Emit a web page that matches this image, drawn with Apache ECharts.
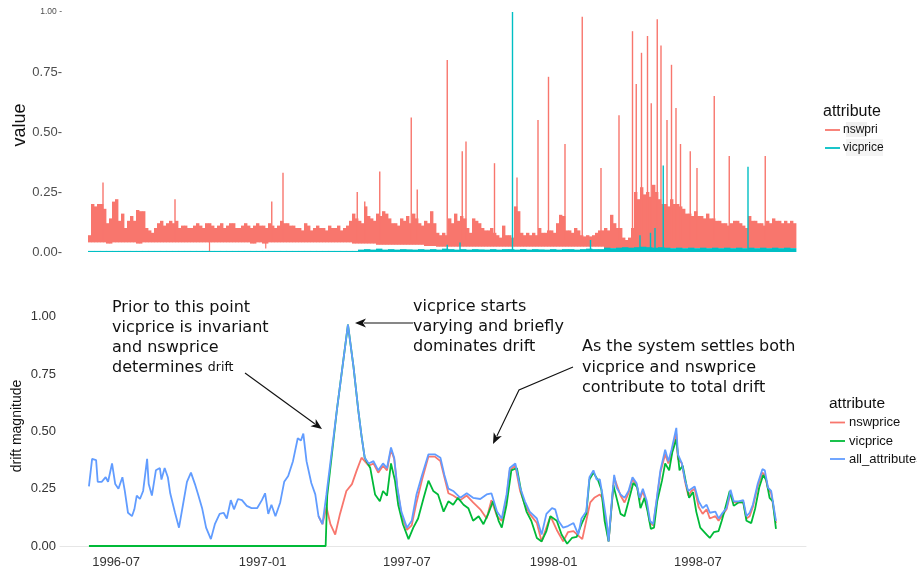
<!DOCTYPE html>
<html><head><meta charset="utf-8">
<script src="https://cdn.jsdelivr.net/npm/echarts@6/dist/echarts.min.js"></script>
<style>html,body{margin:0;padding:0;background:#fff}#c{width:917px;height:576px}</style>
</head><body><div id="c"></div><script>
// ---------- TOP PANEL (raw values; x = days since 1996-05-07) ----------
const HIGH_BUCKET_DAYS = 4;   // nswHigh: one value per 4-day bucket
const LOW_BUCKET_DAYS = 8;    // nswLow / vicHigh: one value per 8-day bucket
const nswHigh = [
 .07,.20,.19,.20,.20,.18,.12,.14,.21,.22,.13,.16,.10,.13,.15,.13,.175,.17,.17,.10,
 .09,.08,.10,.12,.13,.11,.12,.13,.12,.13,.10,.11,.11,.10,.10,.11,.12,.11,.10,.12,
 .12,.11,.10,.11,.12,.10,.11,.12,.12,.10,.10,.11,.12,.11,.10,.11,.12,.11,.11,.10,
 .12,.11,.10,.11,.13,.12,.12,.11,.11,.10,.10,.09,.12,.11,.09,.10,.11,.10,.10,.09,
 .11,.10,.10,.11,.09,.10,.11,.13,.16,.14,.13,.12,.19,.15,.14,.13,.16,.15,.17,.16,
 .14,.12,.12,.11,.14,.13,.15,.12,.16,.14,.12,.11,.13,.12,.17,.12,.08,.07,.08,.07,
 .14,.12,.16,.13,.15,.14,.10,.08,.14,.13,.12,.10,.09,.09,.10,.08,.07,.06,.11,.07,
 .07,.06,.19,.17,.08,.07,.08,.07,.08,.07,.10,.08,.08,.09,.09,.08,.12,.155,.15,.09,
 .09,.08,.10,.09,.07,.065,.07,.065,.07,.08,.09,.09,.10,.09,.155,.12,.10,.10,.06,.05,
 .06,.10,.25,.22,.27,.24,.25,.23,.28,.25,.22,.20,.20,.19,.22,.20,.20,.19,.18,.16,
 .16,.15,.17,.15,.15,.14,.16,.14,.14,.13,.13,.12,.12,.11,.12,.13,.13,.12,.11,.10,
 .15,.13,.13,.12,.12,.11,.13,.12,.14,.13,.13,.12,.13,.12,.13,.12];
const nswLow = [.04,.04,.04,.035,.04,.04,.04,.04,.035,.04,
 .04,.04,.04,.04,.04,.04,.04,.04,.04,.04,
 .04,.04,.04,.04,.04,.04,.04,.035,.04,.035,
 .04,.04,.04,.04,.04,.04,.04,.04,.04,.04,
 .04,.04,.04,.04,.035,.035,.035,.035,.03,.03,
 .03,.03,.03,.03,.03,.03,.025,.025,.022,.022,
 .022,.022,.022,.022,.022,.022,.022,.022,.022,.022,
 .022,.022,.022,.022,.022,.022,.022,.022,.022,.022,
 .022,.022,.022,.022,.022,.022,.016,.016,.016,.016,
 .016,.016,.016,.016,.016,.016,.016,.016,.016,.016,
 .016,.016,.016,.016,.016,.016,.016,.016,.016,.016,
 .016,.016,.016,.016,.016,.016,.016,.016];
const nswSpikeDays = [20,116,245,260,359,369,389,431,439,479,499,504,542,572,600,614,636,659,684,708,726,731,738,746,751,759,764,772,778,784,790,803,812,835,855,903];
const nswSpikeVals = [.29,.22,.21,.33,.25,.21,.335,.56,.26,.80,.42,.46,.37,.31,.55,.73,.45,.98,.35,.57,.92,.70,.83,.90,.62,.97,.86,.55,.78,.60,.45,.42,.35,.65,.40,.40];
const nswDipDays = [162,237];
const nswDipVals = [0.0,0.015];
const vicHigh = [.003,.003,.003,.003,.003,.003,.003,.003,.003,.003,
 .003,.003,.003,.003,.003,.003,.003,.003,.003,.003,
 .003,.003,.003,.003,.003,.003,.003,.003,.003,.003,
 .003,.003,.003,.003,.003,.003,.003,.003,.003,.003,
 .003,.003,.003,.003,.003,.010,.012,.010,.014,.010,
 .012,.010,.012,.011,.010,.012,.010,.012,.010,.014,
 .012,.010,.012,.010,.012,.011,.010,.012,.010,.012,
 .012,.010,.012,.010,.012,.011,.010,.012,.010,.012,
 .012,.010,.012,.014,.012,.012,.018,.016,.018,.020,
 .018,.020,.022,.020,.018,.020,.018,.016,.018,.016,
 .018,.016,.018,.016,.018,.016,.018,.016,.018,.016,
 .018,.016,.018,.016,.018,.016,.018,.016];
const vicSpikeDays = [479,496,566,670,736,750,756,767,880];
const vicSpikeVals = [.03,.04,1.0,.05,.07,.08,.10,.36,.355];

// ---------- BOTTOM PANEL (drift magnitude; x = days since 1996-07-01) ----------
const allDays = [-34,-30,-25,-23,-18,-13,-10,-5,-1,3,8,11,15,20,23,26,30,34,39,41,45,50,55,57,61,65,68,74,79,84,89,94,99,103,108,113,119,124,130,135,139,144,148,153,158,164,170,177,183,187,191,195,200,206,211,216,222,228,232,235,239,245,250,254,259,264,277,291,298,304,308,312,317,323,329,335,340,345,349,353,358,365,371,377,384,392,400,407,412,417,423,432,440,448,457,465,471,478,484,490,494,501,507,513,519,528,534,540,547,551,555,561,567,574,580,584,590,594,599,603,607,611,616,618,622,625,628,633,638,643,648,653,657,661,666,670,674,678,683,689,693,697,703,705,710,714,718,722,726,731,736,741,745,752,756,760,766,771,775,781,787,791,795,799,805,811,814,818,822,828];
const allDrift = [.26,.38,.375,.28,.28,.30,.28,.36,.27,.25,.30,.24,.145,.13,.16,.22,.205,.24,.38,.27,.22,.33,.34,.29,.34,.30,.23,.145,.08,.18,.28,.32,.27,.225,.165,.08,.03,.095,.14,.145,.12,.20,.16,.205,.20,.175,.165,.165,.20,.23,.14,.18,.13,.19,.28,.305,.37,.47,.46,.49,.37,.275,.225,.13,.095,.225,.59,.965,.78,.59,.48,.385,.36,.37,.33,.36,.34,.43,.385,.255,.15,.08,.11,.225,.31,.40,.40,.385,.31,.25,.24,.21,.23,.21,.205,.225,.23,.15,.12,.225,.34,.36,.255,.195,.15,.12,.05,.14,.165,.16,.11,.08,.087,.10,.05,.12,.15,.30,.33,.29,.29,.21,.095,.02,.195,.31,.255,.225,.21,.24,.30,.275,.21,.25,.195,.11,.095,.195,.33,.42,.37,.42,.515,.40,.36,.285,.24,.25,.26,.195,.165,.18,.145,.15,.12,.14,.165,.245,.195,.195,.20,.13,.145,.18,.27,.335,.33,.255,.24,.11];
const vicDays = [-34,263,265,277,291,298,304,308,312,319,325,331,335,340,345,350,354,360,367,373,379,386,392,398,404,411,417,423,429,436,442,448,455,461,467,473,480,484,490,496,503,509,515,521,528,534,540,545,553,559,566,572,578,584,590,594,599,605,609,613,618,624,628,633,638,643,649,654,658,663,667,671,675,679,685,689,694,698,703,707,711,716,719,724,728,733,737,741,745,750,756,760,764,770,775,781,787,791,797,802,807,812,816,820,824,828];
const vicDrift = [0,0,.22,.59,.965,.78,.59,.48,.385,.34,.225,.195,.24,.22,.36,.285,.18,.095,.03,.08,.12,.21,.285,.24,.225,.15,.195,.18,.21,.18,.165,.11,.13,.095,.14,.195,.11,.08,.18,.33,.34,.225,.15,.11,.035,.02,.065,.13,.11,.05,.01,.035,.04,.095,.14,.29,.32,.285,.245,.11,.02,.265,.21,.14,.13,.195,.275,.255,.165,.21,.15,.075,.08,.195,.285,.36,.33,.41,.465,.33,.35,.26,.21,.235,.15,.08,.065,.05,.035,.06,.065,.11,.16,.24,.175,.19,.19,.11,.10,.165,.255,.31,.285,.21,.195,.075];
const nswDays = [254,259,264,269,275,281,289,296,302,308,312,317,323,329,335,340,345,349,353,358,365,371,377,384,392,400,407,412,417,423,432,440,448,457,465,471,478,484,490,494,501,507,513,519,528,534,540,545,553,561,567,574,580,585,590,595,600,607,610,615,618,625,633,638,643,648,653,657,661,666,670,674,678,683,689,693,697,703,705,710,714,718,722,726,731,736,741,745,752,756,760,766,771,775,781,787,791,795,799,805,811,814,818,822,828];
const nswDrift = [.13,.095,.17,.095,.05,.14,.24,.27,.33,.385,.37,.35,.36,.32,.35,.33,.42,.38,.25,.14,.07,.09,.19,.29,.39,.39,.37,.30,.23,.22,.20,.22,.19,.16,.12,.20,.13,.11,.21,.33,.35,.24,.18,.14,.10,.02,.08,.13,.07,.02,.06,.065,.045,.03,.11,.19,.21,.225,.21,.095,.02,.30,.22,.19,.23,.29,.27,.20,.24,.18,.10,.09,.19,.32,.40,.36,.40,.49,.38,.36,.28,.22,.24,.25,.17,.14,.16,.12,.13,.11,.13,.16,.23,.19,.19,.19,.12,.13,.17,.26,.32,.31,.25,.23,.10];
const xTickDays = [0,184,365,549,730];
const xTickLabels = ['1996-07','1997-01','1997-07','1998-01','1998-07'];

const RED='#F8766D', CYAN='#00BFC4', GREEN='#00BA38', BLUE='#619CFF';
const SANS='Liberation Sans, Arial, Helvetica, sans-serif';
const DV='DejaVu Sans, Verdana, sans-serif';

function bandRender(color, width){
  return function(params, api){
    const d=api.value(0), lo=api.value(1), hi=api.value(2);
    const p0=api.coord([d,lo]), p1=api.coord([d+width,hi]);
    let h=p0[1]-p1[1]; if(h<1.1) h=1.1;
    return {type:'rect', shape:{x:p0[0], y:p0[1]-h, width:p1[0]-p0[0]+0.4, height:h}, style:{fill:color}};
  };
}
function spikeRender(color, base, lw){
  return function(params, api){
    const a=api.coord([api.value(0), base]), b=api.coord([api.value(0), api.value(1)]);
    return {type:'line', shape:{x1:a[0],y1:a[1],x2:b[0],y2:b[1]}, style:{stroke:color, lineWidth:lw}};
  };
}
const nswBand = nswHigh.map((h,i)=>{
  const d=i*HIGH_BUCKET_DAYS;
  return [d, nswLow[Math.min(nswLow.length-1, Math.floor(d/LOW_BUCKET_DAYS))], h];
});
const vicBand = vicHigh.map((h,i)=>[i*LOW_BUCKET_DAYS, 0, h]);

function arrow(pts){
  const n=pts.length, t=pts[n-1], p=pts[n-2];
  const dx=t[0]-p[0], dy=t[1]-p[1], L=Math.hypot(dx,dy), ux=dx/L, uy=dy/L;
  const hl=11, hw=4.5;
  const bx=t[0]-ux*hl, by=t[1]-uy*hl;
  const line=pts.slice(0,n-1).concat([[bx+ux*2,by+uy*2]]);
  return [
    {type:'polyline', shape:{points:line}, style:{stroke:'#111', lineWidth:1.1, fill:null}},
    {type:'polygon', shape:{points:[t,[bx-uy*hw,by+ux*hw],[bx+ux*3,by+uy*3],[bx+uy*hw,by-ux*hw]]}, style:{fill:'#111'}}
  ];
}
function txt(x,y,s,size,extra){
  return {type:'text', x:x, y:y, style:Object.assign({text:s, fontFamily:SANS, fontSize:size, fill:'#111', verticalAlign:'middle', align:'left'}, extra||{})};
}
function legLine(x,y,color){return {type:'line', shape:{x1:x,y1:y,x2:x+15,y2:y}, style:{stroke:color,lineWidth:1.8}};}

const graphics = [
  {type:'text', x:20, y:125, rotation:Math.PI/2, style:{text:'value', fontFamily:SANS, fontSize:18, fill:'#111', align:'center', verticalAlign:'middle'}},
  {type:'text', x:17, y:426, rotation:Math.PI/2, style:{text:'drift magnitude', fontFamily:SANS, fontSize:14, fill:'#111', align:'center', verticalAlign:'middle'}},
  txt(823,112,'attribute',16),
  {type:'rect', shape:{x:846,y:122,width:21,height:15}, style:{fill:'#F0F0F0'}},
  {type:'rect', shape:{x:846,y:139,width:37,height:17}, style:{fill:'#F4F4F4'}},
  legLine(825,130,RED), legLine(825,148,CYAN),
  txt(843,130,'nswpri',12), txt(843,148,'vicprice',12),
  txt(829,404,'attribute',15.5),
  legLine(830,422.5,RED), legLine(830,441,GREEN), legLine(830,459,BLUE),
  txt(849,422.5,'nswprice',13), txt(849,441,'vicprice',13), txt(849,459,'all_attributes',13),
  txt(112,308,'Prior to this point',16,{fontFamily:DV}),
  txt(112,328,'vicprice is invariant',16,{fontFamily:DV}),
  txt(112,348,'and nswprice',16,{fontFamily:DV}),
  {type:'text', x:112, y:368, style:{text:'determines {s|drift}', fontFamily:DV, fontSize:16, fill:'#111', verticalAlign:'middle', rich:{s:{fontFamily:DV, fontSize:12.5, fill:'#111'}}}},
  txt(413,307,'vicprice starts',16,{fontFamily:DV}),
  txt(413,327,'varying and briefly',16,{fontFamily:DV}),
  txt(413,347,'dominates drift',16,{fontFamily:DV}),
  txt(582,347,'As the system settles both',16,{fontFamily:DV}),
  txt(582,368,'vicprice and nswprice',16,{fontFamily:DV}),
  txt(582,388,'contribute to total drift',16,{fontFamily:DV})
].concat(arrow([[245,373],[322,429]]), arrow([[413,323],[355,323]]), arrow([[573,367],[519,390],[493,444]]));

const chart = echarts.init(document.getElementById('c'));
chart.setOption({
  animation:false,
  backgroundColor:'#fff',
  grid:[
    {left:65, width:745, top:12, height:240},
    {left:60, width:746, top:316.7, height:229.3}
  ],
  xAxis:[
    {gridIndex:0, type:'value', min:-30.67, max:962.67, show:false},
    {gridIndex:1, type:'value', min:-70.3, max:865.7, splitLine:{show:false},
     axisLine:{show:true, onZero:true, lineStyle:{color:'#E6E6E6', width:1}}, axisTick:{show:false},
     axisLabel:{customValues:xTickDays, formatter:v=>xTickLabels[xTickDays.indexOf(v)]||'', fontFamily:SANS, fontSize:13, color:'#333', margin:10}}
  ],
  yAxis:[
    {gridIndex:0, type:'value', min:0, max:1, interval:0.25, splitLine:{show:false}, axisLine:{show:false}, axisTick:{show:false},
     axisLabel:{margin:3, fontFamily:SANS, fontSize:13, color:'#4D4D4D',
       formatter:v=> v===1 ? '{s|1.00 -}' : v.toFixed(2)+'-', rich:{s:{fontSize:8.5, color:'#4D4D4D', fontFamily:SANS}}}},
    {gridIndex:1, type:'value', min:0, max:1, interval:0.25, splitLine:{show:false}, axisLine:{show:false}, axisTick:{show:false},
     axisLabel:{margin:4, fontFamily:SANS, fontSize:13, color:'#333', formatter:v=>v.toFixed(2)}}
  ],
  series:[
    {type:'custom', xAxisIndex:0, yAxisIndex:0, data:nswBand, encode:{x:0,y:[1,2]}, renderItem:bandRender(RED,HIGH_BUCKET_DAYS), silent:true},
    {type:'custom', xAxisIndex:0, yAxisIndex:0, data:nswSpikeDays.map((d,i)=>[d,nswSpikeVals[i]]), encode:{x:0,y:1}, renderItem:spikeRender(RED,0.05,1.4), silent:true},
    {type:'custom', xAxisIndex:0, yAxisIndex:0, data:nswDipDays.map((d,i)=>[d,nswDipVals[i]]), encode:{x:0,y:1}, renderItem:spikeRender(RED,0.05,1.2), silent:true},
    {type:'custom', xAxisIndex:0, yAxisIndex:0, data:vicBand, encode:{x:0,y:[1,2]}, renderItem:bandRender(CYAN,LOW_BUCKET_DAYS), silent:true},
    {type:'custom', xAxisIndex:0, yAxisIndex:0, data:vicSpikeDays.map((d,i)=>[d,vicSpikeVals[i]]), encode:{x:0,y:1}, renderItem:spikeRender(CYAN,0,1.4), silent:true},
    {name:'nswprice', type:'line', xAxisIndex:1, yAxisIndex:1, data:nswDays.map((d,i)=>[d,nswDrift[i]]), showSymbol:false, clip:false, lineStyle:{color:RED,width:1.8}},
    {name:'vicprice', type:'line', xAxisIndex:1, yAxisIndex:1, data:vicDays.map((d,i)=>[d,vicDrift[i]]), showSymbol:false, clip:false, lineStyle:{color:GREEN,width:1.8}},
    {name:'all_attributes', type:'line', xAxisIndex:1, yAxisIndex:1, data:allDays.map((d,i)=>[d,allDrift[i]]), showSymbol:false, clip:false, lineStyle:{color:BLUE,width:1.8}}
  ],
  graphic:graphics
});
</script></body></html>
